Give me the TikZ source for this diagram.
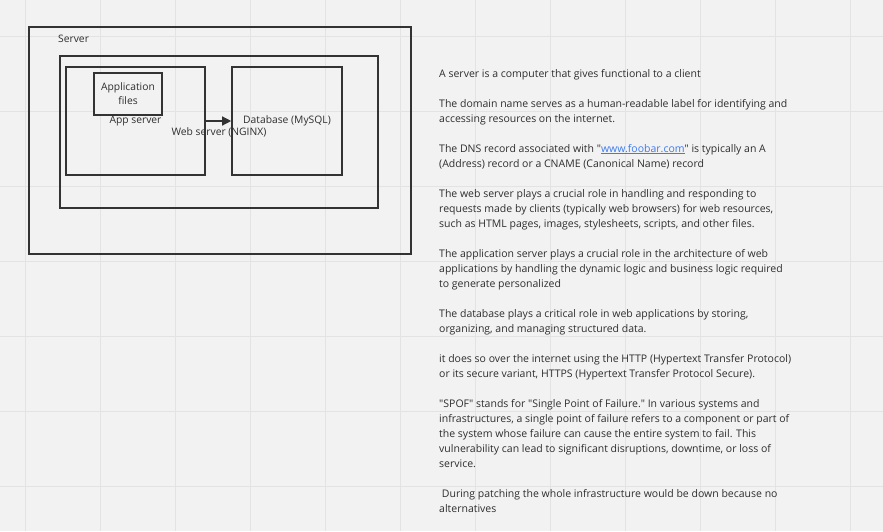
\documentclass[tikz,border=0pt]{standalone}
\usepackage{fontspec}
\setmainfont{Open Sans}[Ligatures=TeXOff]
\usetikzlibrary{arrows.meta}
\definecolor{bgc}{HTML}{F2F2F2}
\definecolor{gridc}{HTML}{E3E3E3}
\definecolor{inkc}{HTML}{333333}
\definecolor{txtc}{HTML}{2E2E2E}
\definecolor{linkc}{HTML}{3D7BF0}
\tikzset{
  box/.style={draw=inkc, line width=1.6pt, fill=none, inner sep=0pt, align=center, text=txtc},
  lbl/.style={font=\fontsize{10.3}{14}\selectfont},
  txt/.style={anchor=base west, inner sep=0pt, text=txtc, font=\fontsize{10.5}{15}\selectfont},
  gridline/.style={draw=gridc, line width=0.9pt},
  conn/.style={draw=inkc, line width=1.3pt, -{Triangle[length=9pt,width=9pt]}}
}
\begin{document}
\begin{tikzpicture}[x=1pt,y=-1pt]
\fill[bgc] (0,0) rectangle (883,531);
\useasboundingbox (0,0) rectangle (883,531);
\foreach \gx in {25,100,...,850} \draw[gridline] (\gx,0) -- (\gx,531);
\foreach \gy in {36,111,...,486} \draw[gridline] (0,\gy) -- (883,\gy);

\node[box, minimum width=382pt, minimum height=227pt] (server) at (220,140.5) {};
\node[lbl, anchor=west, text=txtc, inner sep=0pt] (serverlbl) at (58,39) {Server};
\node[box, lbl, minimum width=318pt, minimum height=152pt] (web) at (219,132) {Web server (NGINX)};
\node[box, lbl, minimum width=139pt, minimum height=108pt] (app) at (135.5,121) {App server};
\node[box, lbl, minimum width=68pt, minimum height=42pt, fill=bgc] (files) at (128,94) {Application\\files};
\node[box, lbl, minimum width=110pt, minimum height=108pt] (db) at (287,121) {Database (MySQL)};
\draw[conn] (app) -- (db);

\node[txt] (t1) at (439,77) {A server is a computer that gives functional to a client};
\node[txt] (t2) at (439,107) {The domain name serves as a human-readable label for identifying and};
\node[txt] (t3) at (439,122) {accessing resources on the internet.};
\node[txt] (t4) at (439,152) {The DNS record associated with "\textcolor{linkc}{\underline{www.foobar.com}}" is typically an A};
\node[txt] (t5) at (439,167) {(Address) record or a CNAME (Canonical Name) record};
\node[txt] (t6) at (439,197) {The web server plays a crucial role in handling and responding to};
\node[txt] (t7) at (439,212) {requests made by clients (typically web browsers) for web resources,};
\node[txt] (t8) at (439,227) {such as HTML pages, images, stylesheets, scripts, and other files.};
\node[txt] (t9) at (439,257) {The application server plays a crucial role in the architecture of web};
\node[txt] (t10) at (439,272) {applications by handling the dynamic logic and business logic required};
\node[txt] (t11) at (439,287) {to generate personalized};
\node[txt] (t12) at (439,317) {The database plays a critical role in web applications by storing,};
\node[txt] (t13) at (439,332) {organizing, and managing structured data.};
\node[txt] (t14) at (439,362) {it does so over the internet using the HTTP (Hypertext Transfer Protocol)};
\node[txt] (t15) at (439,377) {or its secure variant, HTTPS (Hypertext Transfer Protocol Secure).};
\node[txt] (t16) at (439,407) {"SPOF" stands for "Single Point of Failure." In various systems and};
\node[txt] (t17) at (439,422) {infrastructures, a single point of failure refers to a component or part of};
\node[txt] (t18) at (439,437) {the system whose failure can cause the entire system to fail. This};
\node[txt] (t19) at (439,452) {vulnerability can lead to significant disruptions, downtime, or loss of};
\node[txt] (t20) at (439,467) {service.};
\node[txt] (t21) at (439,497) {\ During patching the whole infrastructure would be down because no};
\node[txt] (t22) at (439,512) {alternatives};
\end{tikzpicture}
\end{document}
